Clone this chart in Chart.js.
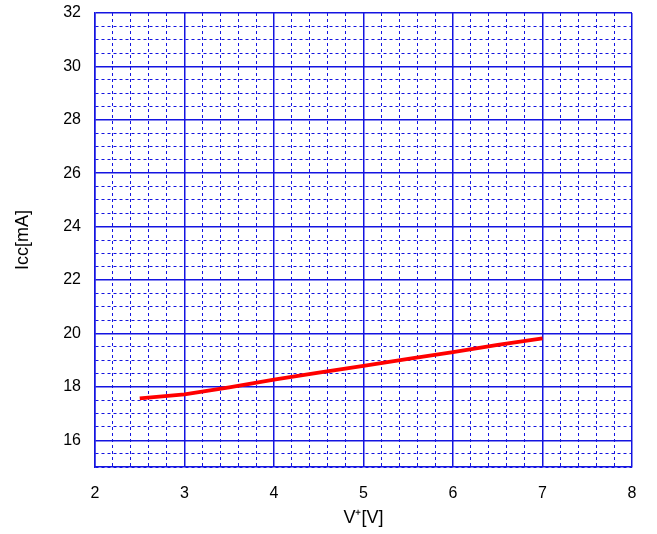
<!DOCTYPE html>
<html>
<head>
<meta charset="utf-8">
<script src="https://cdn.jsdelivr.net/npm/chart.js@4/dist/chart.umd.min.js"></script>
<style>
  body { margin: 0; background: #fff; }
  #wrap { width: 657px; height: 534px; }
</style>
</head>
<body>
<div id="wrap"><canvas id="lineChart" width="657" height="534"></canvas></div>
<script>
// readings
var voltage = [2.5, 3, 3.5, 4, 4.5, 5, 5.5, 6, 6.5, 7];
var current = [17.57, 17.72, 17.98, 18.27, 18.53, 18.79, 19.05, 19.30, 19.57, 19.82];
var xTickLabels = [2, 3, 4, 5, 6, 7, 8];
var yTickLabels = [16, 18, 20, 22, 24, 26, 28, 30, 32];

var blue = "rgb(20,20,225)";
var fontFamily = "'Liberation Sans', Arial, sans-serif";

function isLabel(list, v) {
  for (var i = 0; i < list.length; i++) {
    if (Math.abs(list[i] - v) < 1e-6) return true;
  }
  return false;
}

var points = [];
for (var i = 0; i < voltage.length; i++) {
  points.push({ x: voltage[i], y: current[i] });
}

var ctx = document.getElementById("lineChart").getContext('2d');
var myChart = new Chart(ctx, {
  type: 'scatter',
  data: {
    datasets: [{
      data: points,
      showLine: true,
      borderColor: "rgb(255,0,0)",
      backgroundColor: "rgb(255,0,0)",
      borderWidth: 3.8,
      pointRadius: 0,
      tension: 0
    }]
  },
  options: {
    responsive: false,
    animation: false,
    layout: { padding: { left: 0, right: 25, top: 13, bottom: 0 } },
    plugins: { legend: { display: false }, tooltip: { enabled: false } },
    scales: {
      x: {
        type: 'linear',
        min: 2,
        max: 8,
        afterFit: function (scale) {
          scale.height = 67;
          scale.paddingLeft = 0;
          scale.paddingRight = 0;
        },
        ticks: {
          stepSize: 0.2,
          autoSkip: false,
          maxRotation: 0,
          padding: 17,
          color: "#000",
          font: { family: fontFamily, size: 16 },
          callback: function (v) { return isLabel(xTickLabels, v) ? String(Math.round(v)) : ''; }
        },
        grid: {
          drawTicks: false,
          lineWidth: function (c) {
            return c.tick && isLabel(xTickLabels, c.tick.value) ? 1.5 : 1;
          },
          color: blue
        },
        border: {
          color: blue,
          width: 1.5,
          dash: function (c) {
            if (!c.tick) return [];
            return isLabel(xTickLabels, c.tick.value) ? [] : [3, 3];
          }
        },
        title: {
          display: true,
          text: "V\u207A[V]",
          color: "#000",
          padding: { top: 0, bottom: 5 },
          font: { family: fontFamily, size: 18 }
        }
      },
      y: {
        type: 'linear',
        min: 15,
        max: 32,
        afterFit: function (scale) {
          scale.width = 95;
          scale.paddingTop = 0;
          scale.paddingBottom = 0;
        },
        ticks: {
          stepSize: 0.5,
          autoSkip: false,
          padding: 14,
          color: "#000",
          font: { family: fontFamily, size: 16 },
          callback: function (v) { return isLabel(yTickLabels, v) ? String(Math.round(v)) : ''; }
        },
        grid: {
          drawTicks: false,
          lineWidth: function (c) {
            return c.tick && isLabel(yTickLabels, c.tick.value) ? 1.5 : 1;
          },
          color: blue
        },
        border: {
          color: blue,
          width: 1.5,
          dash: function (c) {
            if (!c.tick) return [];
            return isLabel(yTickLabels, c.tick.value) ? [] : [3, 3];
          }
        },
        title: {
          display: true,
          text: "Icc[mA]",
          color: "#000",
          padding: { top: 12, bottom: 0 },
          font: { family: fontFamily, size: 18 }
        }
      }
    }
  }
});
</script>
</body>
</html>
